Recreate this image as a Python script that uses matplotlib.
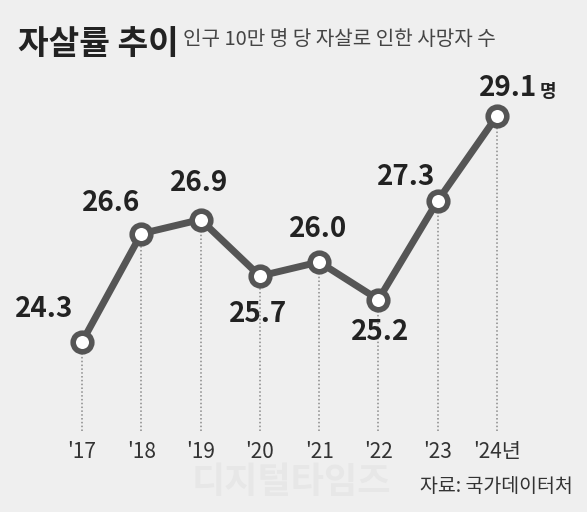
import matplotlib
matplotlib.use('Agg')
import matplotlib.pyplot as plt

years = ["'17", "'18", "'19", "'20", "'21", "'22", "'23", "'24년"]
rates = [24.3, 26.6, 26.9, 25.7, 26.0, 25.2, 27.3, 29.1]
labels = ['24.3', '26.6', '26.9', '25.7', '26.0', '25.2', '27.3', '29.1']
unit = '명'
# label placement relative to point: (dx points, dy points)
offsets = [(-27, 24), (-22, 22), (-1, 26), (-1, -27), (-1, 24), (1, -23), (-23, 17), (8, 20)]

plt.rcParams['font.family'] = ['Noto Sans CJK KR', 'DejaVu Sans']
bg = '#efefef'
line_col = '#555555'

fig = plt.figure(figsize=(5.87, 5.12), dpi=100, facecolor=bg)
ax = fig.add_axes([0, 0, 1, 1])
ax.set_facecolor(bg)
ax.set_xlim(-1.383, 8.518)
ax.set_ylim(20.689, 31.564)
ax.axis('off')

x = list(range(len(rates)))
base = 22.4
for xi, v in zip(x, rates):
    ax.plot([xi, xi], [base, v], color='#8a8a8a', lw=1.1, ls=(0, (1, 1.5)), zorder=1)

ax.plot(x, rates, color=line_col, lw=5, solid_capstyle='round', zorder=2)
ax.scatter(x, rates, s=180, facecolor='white', edgecolor=line_col, linewidths=4, zorder=3)

for xi, v, lab, (dx, dy) in zip(x, rates, labels, offsets):
    ax.annotate(lab, (xi, v), xytext=(dx, dy), textcoords='offset points',
                ha='center', va='center', fontsize=20, fontweight='bold',
                color='#222222')
# unit after the last value
ax.annotate(unit, (x[-1], rates[-1]), xytext=(31, 18), textcoords='offset points',
            ha='left', va='center', fontsize=13, fontweight='bold', color='#222222')

for xi, yr in zip(x, years):
    ax.text(xi, 1 - 452 / 512, yr, transform=ax.get_xaxis_transform(),
            ha='center', va='center', fontsize=15, color='#333333')

fig.text(0.03, 0.914, '자살률 추이', fontsize=24, fontweight='bold', color='#222222',
         ha='left', va='center')
fig.text(0.312, 0.923, '인구 10만 명 당 자살로 인한 사망자 수', fontsize=14.5, color='#444444',
         ha='left', va='center')
fig.text(0.497, 0.057, '디지털타임즈', fontsize=26, fontweight='bold', color='#e7e7e7',
         ha='center', va='center', zorder=0)
fig.text(0.976, 0.049, '자료: 국가데이터처', fontsize=14, color='#333333',
         ha='right', va='center')

fig.savefig('out.png', dpi=100, facecolor=bg)
